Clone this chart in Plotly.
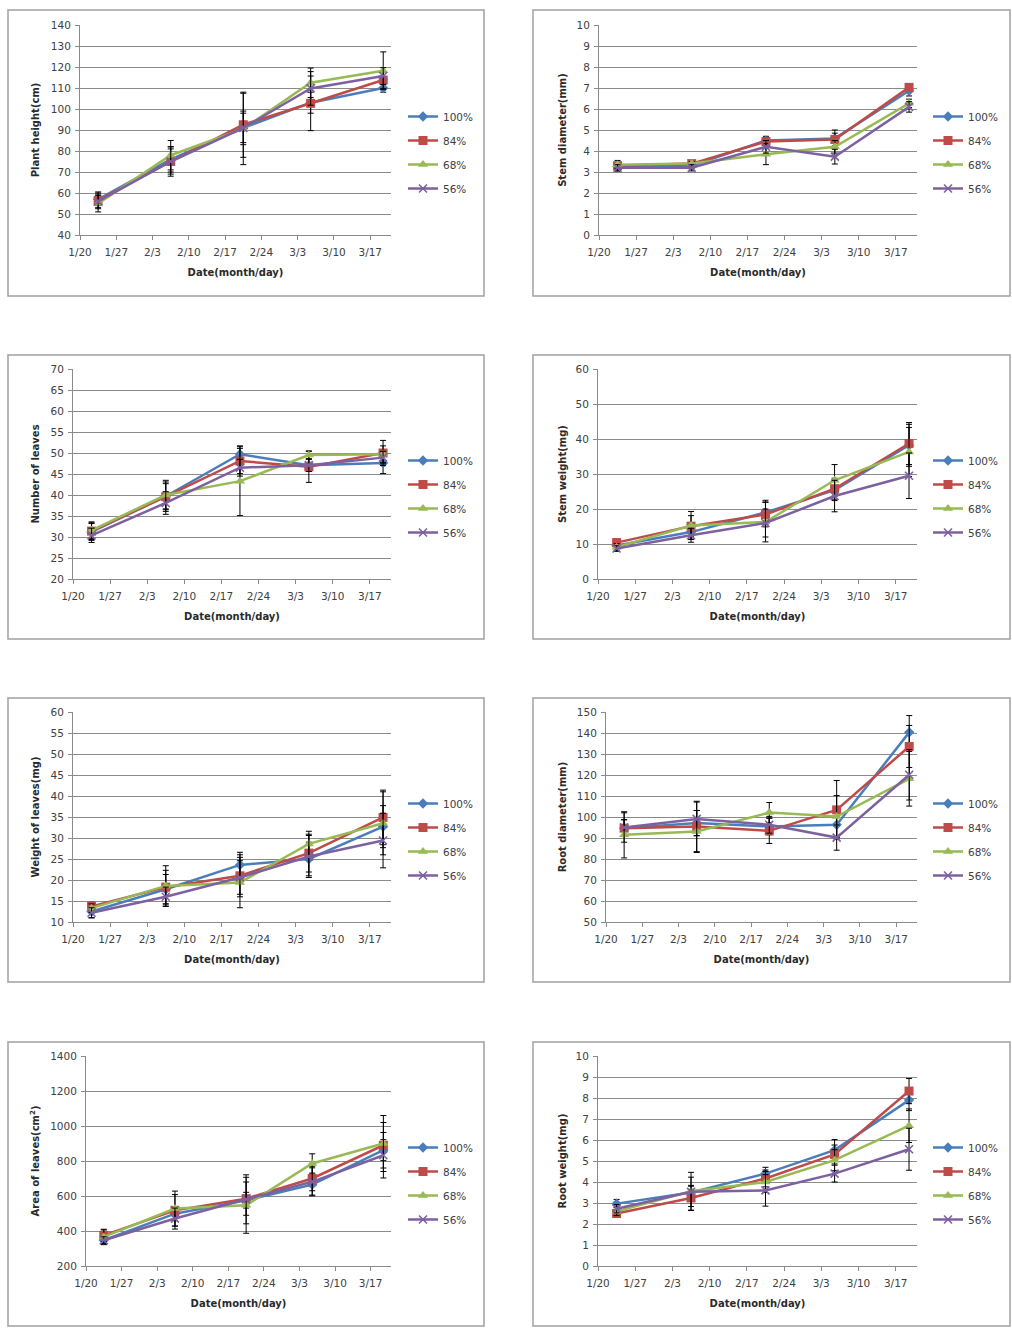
import plotly.graph_objects as go

W, H = 1012, 1334

# ---------------- data ----------------
DATES = ["2011-01-23 12:00", "2011-02-06 12:00", "2011-02-20 12:00",
         "2011-03-05 12:00", "2011-03-19 12:00"]
SERIES = ["100%", "84%", "68%", "56%"]
X_RANGE = ["2011-01-20", "2011-03-21"]

# each panel: rows = 100%, 84%, 68%, 56%
PLANT_HEIGHT = [[57, 76, 91, 103, 110],
                [56.5, 75, 92.5, 102.7, 113.8],
                [55, 78, 90.5, 112.5, 118.2],
                [56, 75, 91, 109.8, 115.7]]
PLANT_HEIGHT_SD = [[3, 6, 8, 5, 2],
                   [4, 7, 15.5, 13, 4],
                   [4, 7, 17, 7, 9],
                   [3, 6, 7, 8, 4]]

STEM_DIAMETER = [[3.25, 3.3, 4.5, 4.6, 6.87],
                 [3.3, 3.4, 4.45, 4.55, 7.03],
                 [3.35, 3.4, 3.85, 4.2, 6.27],
                 [3.2, 3.2, 4.2, 3.73, 6.1]]
STEM_DIAMETER_SD = [[0.2, 0.15, 0.2, 0.4, 0.25],
                    [0.15, 0.1, 0.2, 0.3, 0.15],
                    [0.2, 0.1, 0.5, 0.3, 0.2],
                    [0.15, 0.15, 0.3, 0.35, 0.25]]

LEAF_NUMBER = [[31.2, 39.7, 49.7, 47.1, 47.6],
               [31.4, 39.6, 48.1, 46.7, 50.0],
               [31.6, 40.0, 43.3, 49.5, 49.7],
               [30.4, 38.1, 46.5, 47.1, 48.9]]
LEAF_NUMBER_SD = [[2, 3, 2, 1.5, 2.5],
                  [2, 3.5, 3, 3.7, 3],
                  [2, 3.5, 8.2, 1, 2],
                  [1.7, 2.7, 2, 1.5, 1.5]]

STEM_WEIGHT = [[9.6, 13.4, 19.0, 25.4, 38.2],
               [10.4, 15.1, 18.4, 25.8, 38.7],
               [9.1, 15.3, 16.3, 28.2, 36.3],
               [8.7, 12.5, 16.0, 23.7, 29.5]]
STEM_WEIGHT_SD = [[1, 2, 3.5, 3, 6],
                  [1, 3, 3.5, 3, 6],
                  [1, 4, 5.7, 4.5, 7],
                  [0.8, 2, 4, 4.5, 6.5]]

LEAF_WEIGHT = [[12.5, 17.8, 23.6, 25.0, 32.7],
               [13.7, 18.3, 21.0, 26.4, 34.9],
               [13.3, 18.6, 19.4, 28.6, 33.5],
               [12.2, 16.0, 20.6, 25.6, 29.4]]
LEAF_WEIGHT_SD = [[1.5, 3.5, 3, 4, 5],
                  [1, 4, 5, 4.5, 6.5],
                  [1, 4.8, 6, 3, 7.5],
                  [1.2, 2.3, 4, 5, 6.5]]

ROOT_DIAMETER = [[94.7, 97.1, 95.5, 96.3, 140.3],
                 [94.7, 95.5, 93.4, 103.4, 133.6],
                 [91.5, 93.1, 102.1, 100.2, 118.2],
                 [95.0, 99.1, 96.3, 90.2, 120.1]]
ROOT_DIAMETER_SD = [[4, 6, 4, 6, 8],
                    [4, 12, 6, 14, 10],
                    [11, 10, 4.8, 10, 13],
                    [7, 8, 4, 6, 12]]

LEAF_AREA = [[347, 499, 576, 665, 862],
             [375, 518, 585, 700, 890],
             [366, 528, 547, 786, 900],
             [347, 471, 581, 681, 833]]
LEAF_AREA_SD = [[25, 40, 45, 60, 60],
                [35, 90, 95, 70, 130],
                [40, 100, 160, 55, 160],
                [20, 60, 140, 80, 130]]

ROOT_WEIGHT = [[2.97, 3.5, 4.4, 5.52, 7.9],
               [2.5, 3.24, 4.17, 5.31, 8.33],
               [2.6, 3.56, 4.0, 5.04, 6.68],
               [2.73, 3.53, 3.6, 4.4, 5.56]]
ROOT_WEIGHT_SD = [[0.2, 0.3, 0.3, 0.5, 0.5],
                  [0.15, 0.6, 0.4, 0.45, 0.6],
                  [0.2, 0.9, 0.5, 0.5, 0.8],
                  [0.2, 0.7, 0.75, 0.4, 1.0]]

Y_TITLES = ["Plant height(cm)", "Stem diameter(mm)", "Number of leaves", "Stem weight(mg)",
            "Weight of leaves(mg)", "Root diameter(mm)", "Area of leaves(cm<sup>2</sup>)", "Root weight(mg)"]
Y_RANGES = [[40, 140], [0, 10], [20, 70], [0, 60], [10, 60], [50, 150], [200, 1400], [0, 10]]
Y_DTICKS = [10, 1, 5, 10, 5, 10, 200, 1]
X_TITLE = "Date(month/day)"

MEANS = [PLANT_HEIGHT, STEM_DIAMETER, LEAF_NUMBER, STEM_WEIGHT,
         LEAF_WEIGHT, ROOT_DIAMETER, LEAF_AREA, ROOT_WEIGHT]
SDS = [PLANT_HEIGHT_SD, STEM_DIAMETER_SD, LEAF_NUMBER_SD, STEM_WEIGHT_SD,
       LEAF_WEIGHT_SD, ROOT_DIAMETER_SD, LEAF_AREA_SD, ROOT_WEIGHT_SD]

# ---------------- styles / layout ----------------
COLORS = ["#4A7EBB", "#BE4B48", "#98B954", "#7D60A0"]
SYMBOLS = ["diamond", "square", "triangle-up", "x-thin"]
MSIZES = [8, 9, 9, 8]
FONT = "DejaVu Sans"
TXT = "#404040"
TITLE_TXT = "#2a2a2a"
GRID = "#8a8a8a"

# plot areas in pixels: (left, right, top, bottom)
PLOT_BOX = [(80, 391, 25, 235), (599, 917, 25, 235),
            (73, 391, 369, 579), (598, 917, 369, 579),
            (73, 391, 712, 922), (606, 917, 712, 922),
            (86, 391, 1056, 1266), (598, 917, 1056, 1266)]
FRAME_COLS = [(8, 484), (533, 1010)]
FRAME_ROWS = [(10, 296), (355, 639), (698, 982), (1042, 1326)]
TITLE_X = [33, 560]


def fx(px):
    return px / W


def fy(py):
    return 1 - py / H


fig = go.Figure()
layout = {}
for p in range(8):
    ax = "" if p == 0 else str(p + 1)
    leg = "legend" + ax
    for s in range(4):
        mk = dict(symbol=SYMBOLS[s], size=MSIZES[s], color=COLORS[s])
        if SYMBOLS[s] == "x-thin":
            mk["line"] = dict(width=1.6, color=COLORS[s])
        fig.add_trace(go.Scatter(
            x=DATES, y=MEANS[p][s], name=SERIES[s], mode="lines+markers",
            line=dict(color=COLORS[s], width=2.5), marker=mk,
            error_y=dict(type="data", array=SDS[p][s], visible=True,
                         color="black", thickness=1, width=3),
            xaxis="x" + ax, yaxis="y" + ax, legend=leg,
            legendgroup=f"p{p}s{s}"))
    l, r, t, b = PLOT_BOX[p]
    col = p % 2
    nchar = len(str(Y_RANGES[p][1]))
    layout["xaxis" + ax] = dict(
        domain=[fx(l), fx(r)], anchor="y" + ax, type="date", range=X_RANGE,
        tick0="2011-01-20", dtick=7 * 86400000, tickformat="%-m/%-d",
        showgrid=False, showline=True, linecolor=GRID, linewidth=1,
        ticks="outside", ticklen=4, tickcolor=GRID, ticklabelstandoff=3,
        tickfont=dict(family=FONT, size=10.5, color=TXT), automargin=False,
        title=dict(text=X_TITLE, standoff=12,
                   font=dict(family=FONT, size=10, color=TITLE_TXT, weight="bold")),
        fixedrange=True)
    layout["yaxis" + ax] = dict(
        domain=[fy(b), fy(t)], anchor="x" + ax, range=Y_RANGES[p], dtick=Y_DTICKS[p],
        showgrid=True, gridcolor=GRID, gridwidth=1, zeroline=False,
        showline=True, linecolor=GRID, linewidth=1,
        ticks="outside", ticklen=4, tickcolor=GRID, ticklabelstandoff=2,
        tickfont=dict(family=FONT, size=10.5, color=TXT), automargin=False,
        title=dict(text=Y_TITLES[p],
                   standoff=max(0, round(l - TITLE_X[col] - 18 - 6.7 * nchar)),
                   font=dict(family=FONT, size=10, color=TITLE_TXT, weight="bold")),
        fixedrange=True)
    layout[leg] = dict(
        x=fx(FRAME_COLS[col][0] + 395), y=fy(t + 77), xanchor="left", yanchor="top",
        bgcolor="rgba(0,0,0,0)", traceorder="grouped", tracegroupgap=5,
        font=dict(family=FONT, size=10.5, color=TXT), itemwidth=30)

shapes = []
for (y0, y1) in FRAME_ROWS:
    for (x0, x1) in FRAME_COLS:
        shapes.append(dict(type="rect", xref="paper", yref="paper",
                           x0=fx(x0), x1=fx(x1), y0=fy(y1), y1=fy(y0),
                           line=dict(color="#a0a0a0", width=1.5), layer="below"))

fig.update_layout(width=W, height=H, margin=dict(l=0, r=0, t=0, b=0, autoexpand=False),
                  paper_bgcolor="white", plot_bgcolor="white",
                  showlegend=True, shapes=shapes, **layout)

fig.write_html("out.html", config={"displayModeBar": False},
               post_script="document.body.style.margin='0';document.body.style.overflow='hidden';")
